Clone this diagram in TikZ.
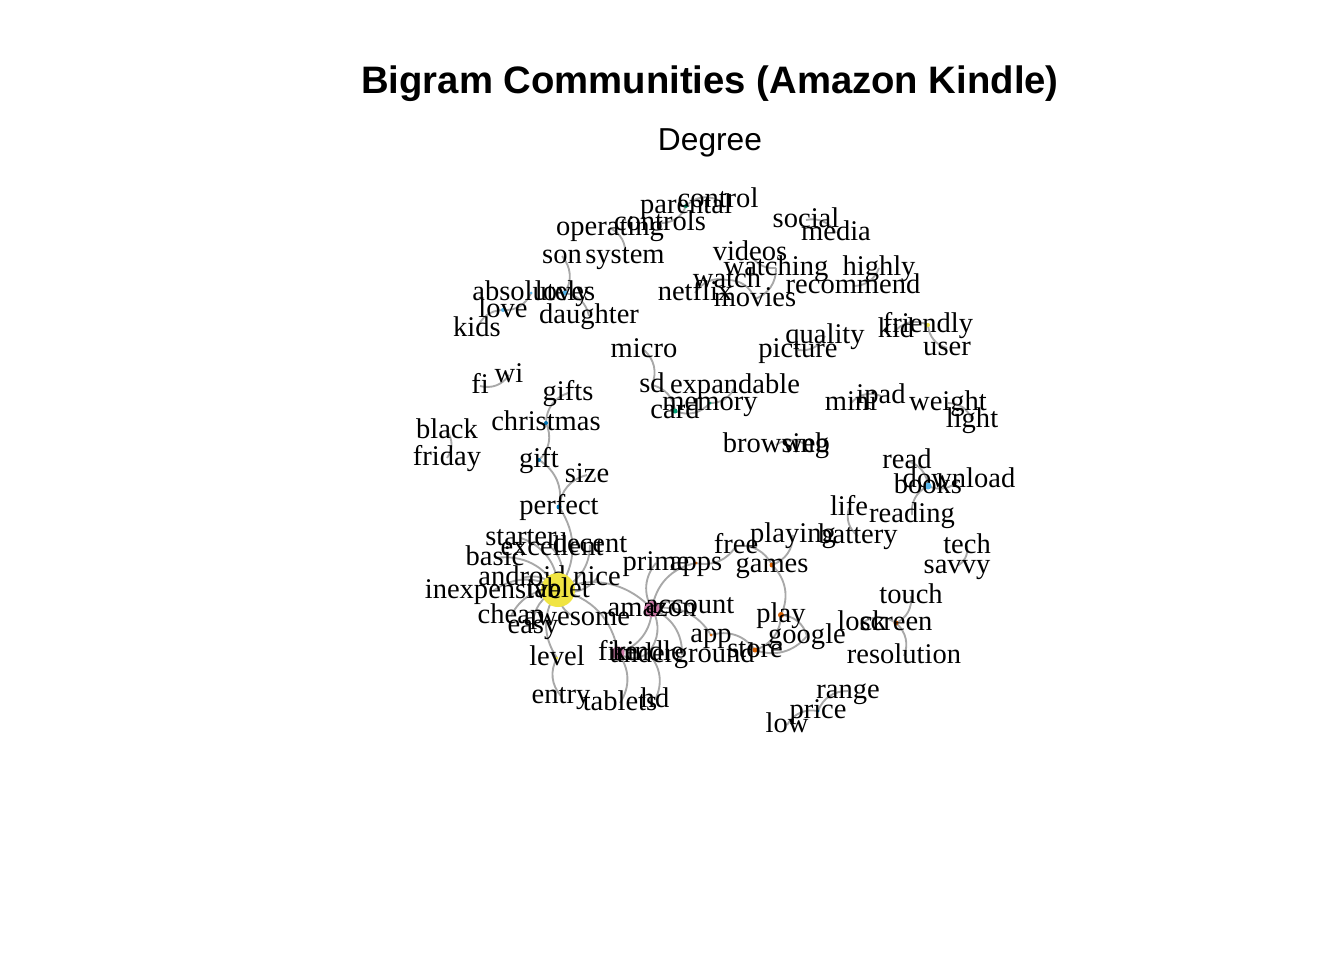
\documentclass[tikz,border=0pt]{standalone}
\usepackage{fontspec}
\usepackage{xcolor}
\newfontfamily\lblfont{Liberation Serif}
\newfontfamily\ttlfont{Liberation Sans}
\definecolor{cyel}{HTML}{F0E442}
\definecolor{cmag}{HTML}{CC79A7}
\definecolor{corg}{HTML}{D55E00}
\definecolor{cgrn}{HTML}{009E73}
\definecolor{clbl}{HTML}{56B4E9}
\definecolor{cdbl}{HTML}{0072B2}
\definecolor{cedge}{HTML}{A8A8A8}
\tikzset{
  lbl/.style={font=\lblfont\fontsize{21.4}{24}\selectfont, inner sep=0pt,
    text height=15pt, text depth=4.3pt},
  edge/.style={draw=cedge, line width=1.4pt, bend left=35}
}
\begin{document}
\begin{tikzpicture}[x=0.75pt,y=-0.75pt]
\fill[white] (0,0) rectangle (1344,960);
\useasboundingbox (0,0) rectangle (1344,960);

% vertex positions: name/x/y/colour/radius
\def\vertices{control/718/200/none/0, parental/686/206/cgrn/2, controls/660/223/none/0,
  operating/610/228/none/0, system/625/256/none/0, son/562/256/none/0,
  absolutely/531/293/clbl/1.5, loves/565/293/clbl/2.5, love/503/310/clbl/2,
  kids/477/329/none/0, daughter/589/316/none/0, netflix/695/293/none/0,
  videos/750/253/none/0, watching/776/268/none/0, watch/727/280/none/0,
  movies/755/299/none/0, social/806/220/none/0, media/836/233/none/0,
  highly/879/268/none/0, recommend/853/286/none/0, kid/896/330/none/0,
  friendly/928/325/cyel/2, user/947/348/none/0, quality/825/336/none/0,
  picture/798/350/none/0, micro/644/350/none/0, sd/652/385/none/0,
  expandable/735/386/none/0, memory/710/403/cgrn/1.5, card/675/411/cgrn/2.5,
  mini/851/403/none/0, ipad/881/396/none/0, weight/948/403/none/0,
  light/972/420/none/0, browsing/776/445/none/0, web/806/445/none/0,
  read/907/461/none/0, download/959/480/none/0, books/928/486/clbl/3.5,
  life/849/508/none/0, reading/912/515/none/0, battery/858/536/none/0,
  playing/793/535/none/0, tech/967/546/none/0, savvy/957/566/none/0,
  wi/509/375/none/0, fi/480/386/none/0, gifts/568/393/none/0,
  christmas/546/423/cdbl/2, black/447/431/none/0, friday/447/458/none/0,
  gift/539/460/cdbl/2, size/587/475/none/0, perfect/559/507/cdbl/2.5,
  starter/521/538/none/0, excellent/552/548/none/0, decent/590/545/none/0,
  basic/495/558/none/0, android/522/578/none/0, nice/597/578/none/0,
  tablet/558/590/cyel/17, inexpensive/493/591/none/0, cheap/511/616/none/0,
  awesome/577/618/none/0, easy/533/626/none/0, level/557/658/cyel/1.5,
  entry/561/696/none/0, prime/656/563/none/0, apps/696/563/corg/1.5,
  free/736/546/none/0, games/772/565/corg/2.5, amazon/652/609/cmag/8,
  account/690/606/none/0, app/711/635/corg/1.5, fire/618/653/cmag/6.5,
  kindle/648/653/none/0, underground/682/655/none/0, store/755/650/corg/2.5,
  play/781/615/corg/3, google/807/636/none/0, tablets/620/703/none/0,
  hd/655/700/none/0, lock/862/623/none/0, screen/896/623/corg/2.5,
  touch/911/596/none/0, resolution/904/656/none/0, range/848/691/none/0,
  price/818/711/cdbl/1.5, low/787/725/none/0}

\foreach \n/\x/\y/\c/\r in \vertices
  \coordinate (\n) at (\x,\y);

% bigram edges
\foreach \a/\b in {parental/control, parental/controls, operating/system,
  son/loves, loves/daughter, absolutely/love, kids/love, netflix/watch,
  watch/movies, watching/movies, watching/videos, social/media,
  highly/recommend, kid/friendly, user/friendly, quality/picture,
  micro/sd, sd/card, memory/card, expandable/memory, mini/ipad,
  weight/light, browsing/web, read/books, download/books, reading/books,
  battery/life, tech/savvy, wi/fi, black/friday, christmas/gifts,
  christmas/gift, gift/perfect, perfect/size, perfect/tablet,
  starter/tablet, excellent/tablet, decent/tablet, basic/tablet,
  android/tablet, nice/tablet, inexpensive/tablet, cheap/tablet,
  awesome/tablet, easy/tablet, level/tablet, entry/level, tablet/amazon,
  tablet/fire, amazon/prime, amazon/apps, amazon/account, amazon/app,
  amazon/underground, amazon/kindle, amazon/fire, fire/tablets, kindle/hd,
  kindle/fire, free/apps, free/games, playing/games, games/play,
  play/store, play/google, google/store, app/store, lock/screen,
  touch/screen, screen/resolution, price/range, low/price}
  \draw[edge] (\a) to (\b);

\foreach \n/\x/\y/\c/\r in \vertices {
  \path[fill=\c] (\n) circle[radius=\r];
  \node[lbl] (l\n) at (\n) {\n};
}

\node[font=\ttlfont\bfseries\fontsize{28.7}{32}\selectfont, anchor=base,
  inner sep=0pt] (title) at (710,93) {Bigram Communities (Amazon Kindle)};
\node[font=\ttlfont\fontsize{23.8}{27}\selectfont, anchor=base,
  inner sep=0pt] (sub) at (710,150) {Degree};
\end{tikzpicture}
\end{document}
